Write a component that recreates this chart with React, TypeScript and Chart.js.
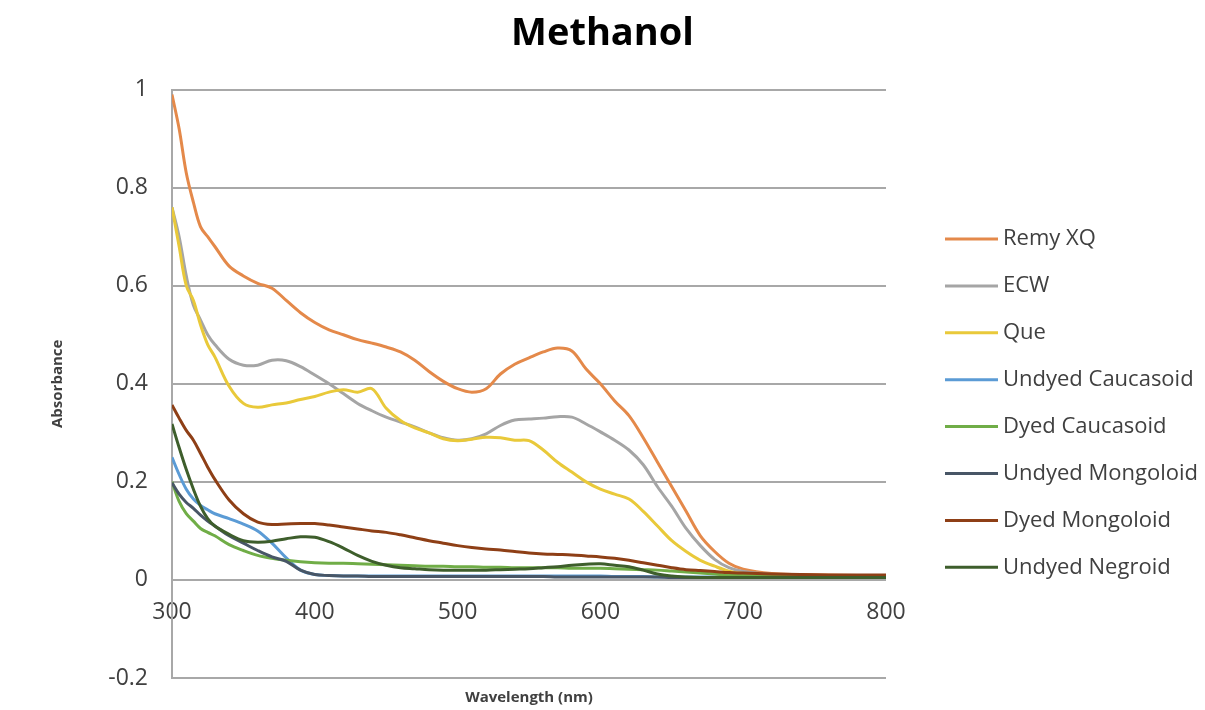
import React, { useEffect, useRef } from "react";
import { Chart, registerables } from "chart.js";

Chart.register(...registerables);

const chartTitle = "Methanol";
const xTitle = "Wavelength (nm)";
const yTitle = "Absorbance";

const wavelengths = [
  300, 305, 310, 315, 320, 325, 330, 340, 350, 360, 370, 380, 390, 400, 410, 420, 430, 440, 450, 460,
  470, 480, 490, 500, 510, 520, 530, 540, 550, 560, 570, 580, 590, 600, 610, 620, 630, 640, 650, 660,
  670, 680, 690, 700, 720, 740, 760, 780, 800,
];

const seriesNames = [
  "Remy XQ",
  "ECW",
  "Que",
  "Undyed Caucasoid",
  "Dyed Caucasoid",
  "Undyed Mongoloid",
  "Dyed Mongoloid",
  "Undyed Negroid",
];

const seriesColors = ["#E4894A", "#A5A5A5", "#E9C93A", "#5B9BD5", "#70AD47", "#485666", "#8E3F16", "#3E5E2C"];

const remyXQ = [
  0.99, 0.92, 0.83, 0.77, 0.72, 0.7, 0.68, 0.64, 0.62, 0.605, 0.595, 0.57, 0.545, 0.525, 0.51, 0.5, 0.49, 0.483, 0.475, 0.465,
  0.448, 0.425, 0.405, 0.39, 0.383, 0.39, 0.42, 0.44, 0.453, 0.465, 0.473, 0.467, 0.43, 0.4, 0.365, 0.335, 0.29, 0.24, 0.19, 0.14,
  0.09, 0.058, 0.034, 0.022, 0.013, 0.011, 0.01, 0.009, 0.009,
];
const ecw = [
  0.76, 0.7, 0.62, 0.56, 0.53, 0.5, 0.48, 0.45, 0.438, 0.438, 0.448, 0.447, 0.435, 0.418, 0.4, 0.38, 0.36, 0.345, 0.332, 0.322,
  0.312, 0.3, 0.29, 0.285, 0.288, 0.298, 0.315, 0.326, 0.328, 0.33, 0.333, 0.332, 0.318, 0.302, 0.285, 0.265, 0.235, 0.19, 0.15, 0.105,
  0.07, 0.042, 0.025, 0.017, 0.011, 0.009, 0.008, 0.008, 0.008,
];
const que = [
  0.76, 0.68, 0.6, 0.57, 0.52, 0.48, 0.455, 0.395, 0.36, 0.352, 0.357, 0.361, 0.368, 0.374, 0.383, 0.388, 0.383, 0.39, 0.35, 0.325,
  0.31, 0.3, 0.288, 0.284, 0.287, 0.291, 0.29, 0.285, 0.284, 0.265, 0.24, 0.22, 0.2, 0.185, 0.175, 0.165, 0.14, 0.11, 0.08, 0.058,
  0.04, 0.028, 0.018, 0.013, 0.009, 0.008, 0.007, 0.007, 0.007,
];
const undyedCaucasoid = [
  0.25, 0.215, 0.185, 0.165, 0.152, 0.143, 0.135, 0.125, 0.114, 0.1, 0.075, 0.045, 0.02, 0.011, 0.009, 0.008, 0.008, 0.008, 0.008, 0.008,
  0.008, 0.008, 0.008, 0.008, 0.008, 0.008, 0.008, 0.008, 0.008, 0.008, 0.008, 0.008, 0.008, 0.008, 0.007, 0.007, 0.007, 0.006, 0.006, 0.006,
  0.006, 0.006, 0.005, 0.005, 0.005, 0.005, 0.005, 0.005, 0.005,
];
const dyedCaucasoid = [
  0.2, 0.16, 0.135, 0.12, 0.105, 0.097, 0.09, 0.072, 0.06, 0.05, 0.044, 0.04, 0.037, 0.035, 0.034, 0.034, 0.033, 0.032, 0.031, 0.03,
  0.029, 0.028, 0.028, 0.027, 0.027, 0.026, 0.026, 0.025, 0.025, 0.025, 0.025, 0.024, 0.024, 0.024, 0.023, 0.022, 0.021, 0.02, 0.018, 0.016,
  0.014, 0.012, 0.01, 0.009, 0.008, 0.007, 0.006, 0.006, 0.006,
];
const undyedMongoloid = [
  0.198, 0.175, 0.158, 0.146, 0.132, 0.12, 0.11, 0.09, 0.075, 0.06, 0.047, 0.038, 0.02, 0.011, 0.009, 0.008, 0.008, 0.007, 0.007, 0.007,
  0.007, 0.007, 0.007, 0.007, 0.007, 0.007, 0.007, 0.007, 0.007, 0.007, 0.006, 0.006, 0.006, 0.006, 0.006, 0.006, 0.006, 0.006, 0.005, 0.005,
  0.005, 0.005, 0.005, 0.005, 0.005, 0.005, 0.005, 0.005, 0.005,
];
const dyedMongoloid = [
  0.357, 0.33, 0.305, 0.285, 0.258, 0.23, 0.205, 0.163, 0.135, 0.118, 0.113, 0.114, 0.115, 0.115, 0.112, 0.108, 0.104, 0.1, 0.097, 0.092,
  0.086, 0.08, 0.075, 0.07, 0.066, 0.063, 0.061, 0.058, 0.055, 0.053, 0.052, 0.051, 0.049, 0.047, 0.044, 0.04, 0.035, 0.03, 0.025, 0.021,
  0.019, 0.017, 0.015, 0.014, 0.012, 0.011, 0.01, 0.01, 0.01,
];
const undyedNegroid = [
  0.318, 0.27, 0.225, 0.185, 0.15, 0.125, 0.11, 0.093, 0.08, 0.077, 0.079, 0.084, 0.088, 0.087, 0.078, 0.065, 0.05, 0.038, 0.03, 0.025,
  0.023, 0.021, 0.02, 0.02, 0.02, 0.02, 0.021, 0.022, 0.023, 0.025, 0.027, 0.03, 0.032, 0.033, 0.03, 0.027, 0.02, 0.012, 0.008, 0.006,
  0.005, 0.005, 0.005, 0.005, 0.005, 0.005, 0.005, 0.005, 0.005,
];

const seriesValues = [remyXQ, ecw, que, undyedCaucasoid, dyedCaucasoid, undyedMongoloid, dyedMongoloid, undyedNegroid];

const FONT = "'Open Sans', 'Noto Sans', sans-serif";
const TEXT_COLOR = "#404040";
const GRID_COLOR = "#A8A8A8";

const sideLegend = {
  id: "sideLegend",
  afterDraw(chart: any, _args: any, opts: any) {
    const { ctx } = chart;
    ctx.save();
    ctx.font = `${opts.fontSize}px ${FONT}`;
    ctx.textBaseline = "middle";
    ctx.textAlign = "left";
    chart.data.datasets.forEach((ds: any, i: number) => {
      const y = opts.top + i * opts.spacing;
      ctx.strokeStyle = ds.borderColor;
      ctx.lineWidth = 3;
      ctx.beginPath();
      ctx.moveTo(opts.x, y);
      ctx.lineTo(opts.x + opts.lineLen, y);
      ctx.stroke();
      ctx.fillStyle = TEXT_COLOR;
      ctx.fillText(ds.label, opts.x + opts.lineLen + opts.gap, y);
    });
    ctx.restore();
  },
};

export default function App() {
  const canvasRef = useRef<HTMLCanvasElement | null>(null);

  useEffect(() => {
    document.body.style.margin = "0";
    const canvas = canvasRef.current;
    if (!canvas) return;
    const datasets = seriesNames.map((name, i) => ({
      label: name,
      data: wavelengths.map((w, j) => ({ x: w, y: seriesValues[i][j] })),
      borderColor: seriesColors[i],
      backgroundColor: seriesColors[i],
      borderWidth: 3,
      pointRadius: 0,
      tension: 0.35,
      order: seriesNames.length - i,
    }));
    const chart = new Chart(canvas, {
      type: "line",
      data: { datasets },
      plugins: [sideLegend],
      options: {
        animation: false,
        responsive: false,
        devicePixelRatio: 1,
        layout: { padding: { left: 0, right: 0, top: 0, bottom: 0 } },
        plugins: {
          legend: { display: false },
          tooltip: { enabled: false },
          title: {
            display: true,
            text: chartTitle,
            color: "#000000",
            font: { family: FONT, size: 38, weight: "bold" },
            padding: { top: 11, bottom: 33 },
          },
          sideLegend: { x: 945, top: 239, spacing: 46.9, lineLen: 53, gap: 5, fontSize: 22 },
        } as any,
        scales: {
          x: {
            type: "linear",
            position: { y: 0 } as any,
            min: 300,
            max: 800,
            ticks: {
              stepSize: 100,
              color: TEXT_COLOR,
              font: { family: FONT, size: 23 },
              padding: 19,
            },
            grid: { display: false, drawTicks: false },
            border: { display: false },
          },
          x2: {
            type: "linear",
            position: "bottom",
            min: 300,
            max: 800,
            ticks: { display: false },
            grid: { display: false, drawTicks: false },
            border: { display: false },
            title: {
              display: true,
              text: xTitle,
              color: TEXT_COLOR,
              font: { family: FONT, size: 15, weight: "bold" },
              padding: { top: 0, bottom: 3 },
            },
            afterFit: (s: any) => {
              s.height = 32;
            },
          },
          y: {
            type: "linear",
            min: -0.2,
            max: 1,
            ticks: {
              stepSize: 0.2,
              color: TEXT_COLOR,
              font: { family: FONT, size: 23 },
              crossAlign: "near",
              padding: 4,
              callback: (v: any) => String(Number(Number(v).toFixed(1))),
            },
            grid: {
              color: GRID_COLOR,
              lineWidth: 2,
              drawTicks: true,
              tickLength: 20,
              tickColor: "rgba(0,0,0,0)",
            },
            border: { display: true, color: GRID_COLOR, width: 2 },
            title: {
              display: true,
              text: yTitle,
              color: TEXT_COLOR,
              font: { family: FONT, size: 15, weight: "bold" },
              padding: { top: 49, bottom: 0 },
            },
            afterFit: (s: any) => {
              s.width = 172;
            },
          },
          legendSpace: {
            type: "linear",
            position: "right",
            min: 0,
            max: 1,
            ticks: { display: false },
            grid: { display: false, drawTicks: false },
            border: { display: false },
            afterFit: (s: any) => {
              s.width = 319;
            },
          },
        } as any,
      },
    });
    return () => chart.destroy();
  }, []);

  return (
    <div style={{ width: 1205, height: 710, background: "#ffffff" }}>
      <canvas ref={canvasRef} width={1205} height={710} />
    </div>
  );
}
